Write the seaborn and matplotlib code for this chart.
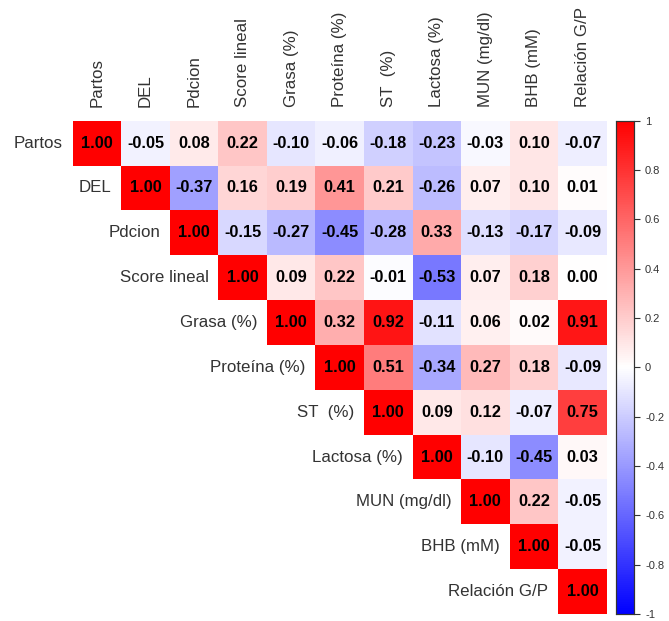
import numpy as np
import pandas as pd
import matplotlib.pyplot as plt
import seaborn as sns
from matplotlib.colors import LinearSegmentedColormap

# Variable names (columns and rows of the correlation matrix)
labels = ["Partos", "DEL", "Pdcion", "Score lineal", "Grasa (%)", "Proteína (%)",
          "ST  (%)", "Lactosa (%)", "MUN (mg/dl)", "BHB (mM)", "Relación G/P"]

# Upper triangle rows, starting at the diagonal
row_partos = [1.00, -0.05, 0.08, 0.22, -0.10, -0.06, -0.18, -0.23, -0.03, 0.10, -0.07]
row_del = [1.00, -0.37, 0.16, 0.19, 0.41, 0.21, -0.26, 0.07, 0.10, 0.01]
row_pdcion = [1.00, -0.15, -0.27, -0.45, -0.28, 0.33, -0.13, -0.17, -0.09]
row_score = [1.00, 0.09, 0.22, -0.01, -0.53, 0.07, 0.18, 0.00]
row_grasa = [1.00, 0.32, 0.92, -0.11, 0.06, 0.02, 0.91]
row_proteina = [1.00, 0.51, -0.34, 0.27, 0.18, -0.09]
row_st = [1.00, 0.09, 0.12, -0.07, 0.75]
row_lactosa = [1.00, -0.10, -0.45, 0.03]
row_mun = [1.00, 0.22, -0.05]
row_bhb = [1.00, -0.05]
row_relacion = [1.00]

rows = [row_partos, row_del, row_pdcion, row_score, row_grasa, row_proteina,
        row_st, row_lactosa, row_mun, row_bhb, row_relacion]

n = len(labels)
mat = np.full((n, n), np.nan)
for i, r in enumerate(rows):
    mat[i, i:] = r
df = pd.DataFrame(mat, index=labels, columns=labels)
mask = np.isnan(mat)

sns.set_theme(style="white")
plt.rcParams["font.family"] = ["Liberation Sans", "DejaVu Sans"]

cmap = LinearSegmentedColormap.from_list("bwr_corr", ["#0000FF", "#FFFFFF", "#FF0000"])

fig = plt.figure(figsize=(6.69, 6.21), dpi=100)
ax = fig.add_axes([0.1087, 0.0113, 0.7982, 0.7944])
cax = fig.add_axes([0.9208, 0.0113, 0.0269, 0.7944])

sns.heatmap(
    df,
    mask=mask,
    cmap=cmap,
    vmin=-1,
    vmax=1,
    annot=True,
    fmt=".2f",
    annot_kws={"color": "black", "fontsize": 11.8, "fontweight": "bold"},
    xticklabels=labels,
    yticklabels=False,
    cbar_ax=cax,
    ax=ax,
)

# Column labels on top, vertical
ax.xaxis.tick_top()
ax.set_xticklabels(labels, rotation=90, fontsize=12.2, color="#333333")
ax.tick_params(axis="x", length=0, pad=10)
ax.set_xlabel("")
ax.set_ylabel("")

# Row labels placed next to the diagonal
for i, lab in enumerate(labels):
    ax.text(i - 0.2, i + 0.5, lab, ha="right", va="center",
            fontsize=12.2, color="#333333")

# Colorbar styling
cax.set_yticks(np.round(np.arange(-1, 1.01, 0.2), 1))
cax.set_yticklabels(["-1", "-0.8", "-0.6", "-0.4", "-0.2", "0",
                     "0.2", "0.4", "0.6", "0.8", "1"])
cax.tick_params(axis="y", length=4, width=0.8, labelsize=8, colors="#333333", pad=4)
for s in cax.spines.values():
    s.set_visible(True)
    s.set_color("#333333")
    s.set_linewidth(0.8)

fig.savefig("out.png", dpi=100)
